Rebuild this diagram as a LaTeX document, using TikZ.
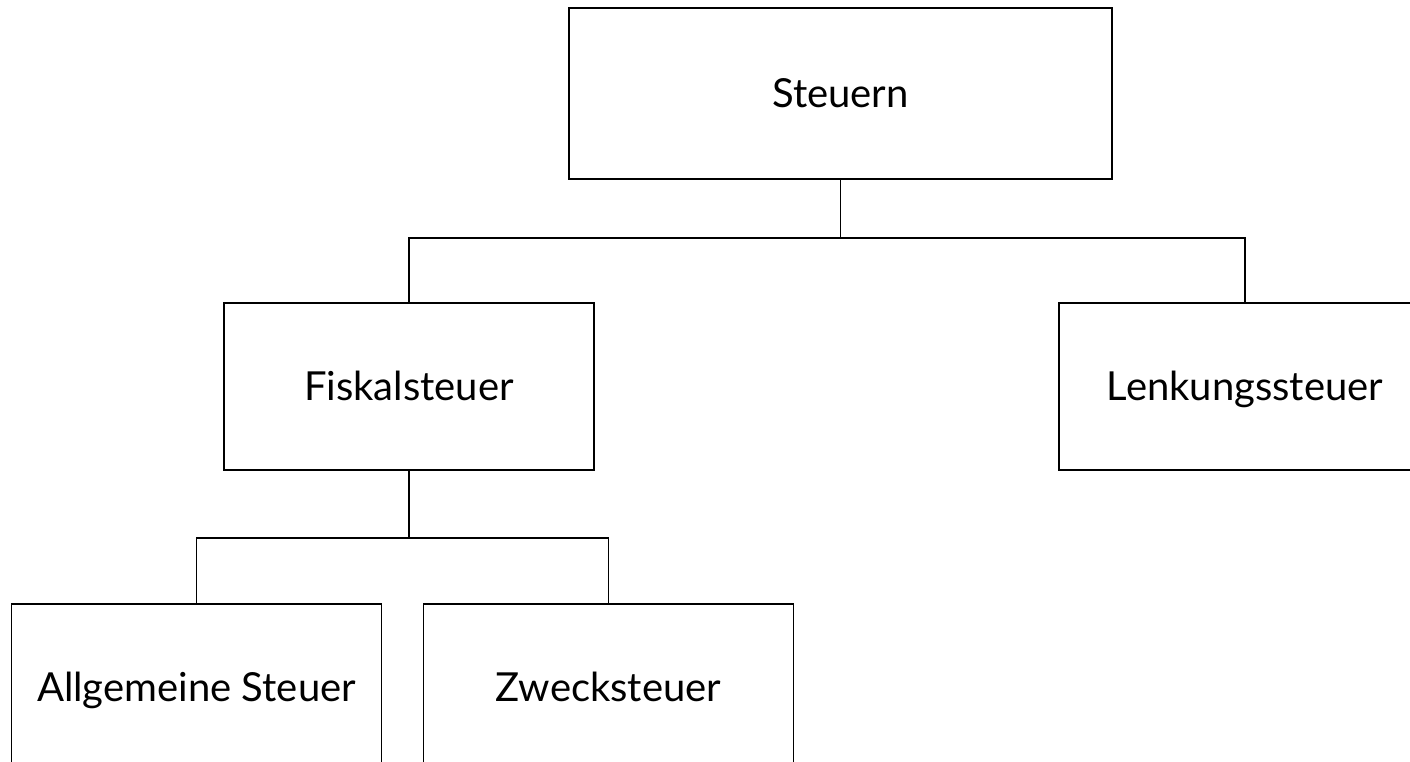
\documentclass[tikz,border=0pt]{standalone}
\usepackage{fontspec}
\setmainfont{Lato}
\usetikzlibrary{positioning,calc}

\tikzset{
    taxbox/.style={draw, line width=1.6pt, minimum width=370pt, minimum height=167pt,
        inner sep=0pt, text height=28.5pt, text depth=0pt,
        font=\fontsize{40}{48}\selectfont},
    link/.style={line width=1.6pt}
}

\begin{document}
\begin{tikzpicture}[x=1pt,y=-1pt]
            \useasboundingbox (0,0) rectangle (1410,762);

            \node[taxbox, minimum width=543pt, minimum height=171pt] (steuern) at (840.5,93.5) {Steuern};
            \node[taxbox] (fiskal) at (409,386.5) {Fiskalsteuer};
            \node[taxbox, minimum width=372pt] (lenkung) at (1245,386.5) {Lenkungssteuer};
            \node[taxbox] (allg) at (196.5,687.5) {Allgemeine Steuer};
            \node[taxbox] (zweck) at (608.5,687.5) {Zwecksteuer};

            \coordinate (bus1) at (840.5,238);
            \coordinate (bus2) at (409,538);

            \draw[link] (steuern.south) -- (bus1);
            \draw[link] (fiskal.north) |- (bus1) -| (lenkung.north);
            \draw[link] (fiskal.south) -- (bus2);
            \draw[link] (allg.north) |- (bus2) -| (zweck.north);
        \end{tikzpicture}
\end{document}
